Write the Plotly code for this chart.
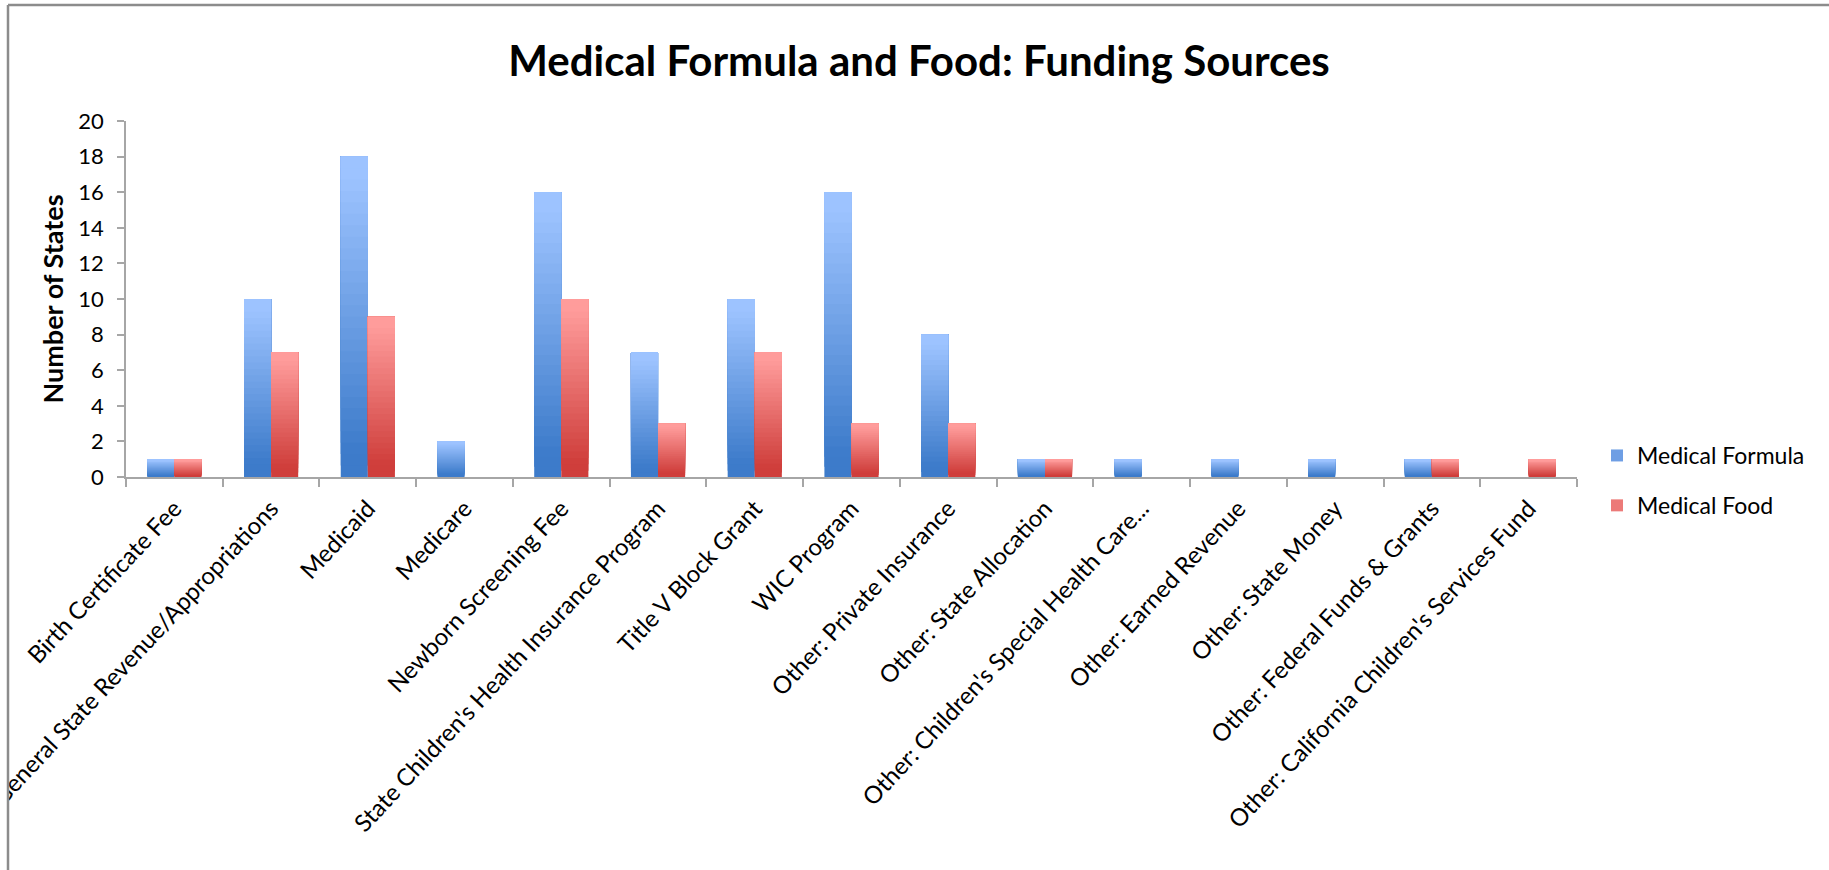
import plotly.graph_objects as go

# Funding sources and number of states using each
categories = [
    "Birth Certificate Fee",
    "General State Revenue/Appropriations",
    "Medicaid",
    "Medicare",
    "Newborn Screening Fee",
    "State Children's Health Insurance Program",
    "Title V Block Grant",
    "WIC Program",
    "Other: Private Insurance",
    "Other: State Allocation",
    "Other: Children's Special Health Care...",
    "Other: Earned Revenue",
    "Other: State Money",
    "Other: Federal Funds & Grants",
    "Other: California Children's Services Fund",
]
medical_formula = [1, 10, 18, 2, 16, 7, 10, 16, 8, 1, 1, 1, 1, 1, 0]
medical_food = [1, 7, 9, 0, 10, 3, 7, 3, 3, 1, 0, 0, 0, 1, 1]
y_ticks = [0, 2, 4, 6, 8, 10, 12, 14, 16, 18, 20]

W, H = 1829, 870
L, R, T, B = 126, 1577, 121, 477  # plot area in pixels
FONT = "Lato"

# (name, values, bottom colour, top colour, legend colour, bar offset)
series = [
    ("Medical Formula", medical_formula, (0x3D, 0x7B, 0xCA), (0x9D, 0xC3, 0xFF), "#6E9EE4", -0.28),
    ("Medical Food", medical_food, (0xCF, 0x3E, 0x3B), (0xFF, 0x9C, 0x9B), "#EC7A78", 0.0),
]
STEPS = 28
BAR_W = 0.28


def blend(c0, c1, t):
    # dark plateau at the foot of the bar, then a linear ramp to the top colour
    t = min(max((t - 0.08) / 0.86, 0.0), 1.0)
    return "rgb({},{},{})".format(*(round(a + (b - a) * t) for a, b in zip(c0, c1)))


fig = go.Figure()
for name, vals, dark, light, legend_col, off in series:
    for k in range(STEPS):
        frac0 = k / STEPS
        fig.add_trace(go.Bar(
            x=categories,
            y=[v * (1 - frac0) for v in vals],
            base=[v * frac0 for v in vals],
            offset=off,
            width=BAR_W,
            marker=dict(color=blend(dark, light, (k + 0.5) / STEPS), line=dict(width=0)),
            name=name,
            legendgroup=name,
            showlegend=False,
            hoverinfo="skip" if k else "x+y+name",
        ))
    # legend entry
    fig.add_trace(go.Bar(
        x=[categories[0]], y=[None], name=name, legendgroup=name,
        marker=dict(color=legend_col, line=dict(width=0)), showlegend=True,
    ))

pw, ph = R - L, B - T


def px_x(p):
    return (p - L) / pw


def px_y(p):
    return (B - p) / ph


fig.update_layout(
    width=W,
    height=H,
    barmode="overlay",
    paper_bgcolor="white",
    plot_bgcolor="white",
    margin=dict(l=L, r=W - R, t=T, b=H - B, autoexpand=False),
    font=dict(family=FONT, color="#000000"),
    title=dict(
        text="<b>Medical Formula and Food: Funding Sources</b>",
        font=dict(family=FONT, size=42, color="#000000"),
        xref="container", x=919 / W, xanchor="center",
        yref="container", y=1 - 61 / H, yanchor="middle",
    ),
    xaxis=dict(
        range=[-0.5, len(categories) - 0.5],
        tickangle=-47,
        tickfont=dict(family=FONT, size=24, color="#000000"),
        showline=True, linecolor="#A6A6A6", linewidth=2,
        ticks="outside", ticklen=8, tickcolor="#A6A6A6", tickwidth=1.5,
        ticklabelstandoff=6,
        tickson="boundaries",
        showgrid=False, zeroline=False,
        automargin=False,
    ),
    yaxis=dict(
        range=[0, 20],
        tickvals=y_ticks,
        tickfont=dict(family=FONT, size=22, color="#000000"),
        showline=True, linecolor="#A6A6A6", linewidth=1.5,
        ticks="outside", ticklen=7, tickcolor="#A6A6A6", tickwidth=1.5,
        ticklabelstandoff=9,
        showgrid=False, zeroline=False,
        title=dict(text="<b>Number of States</b>", font=dict(family=FONT, size=27, color="#000000"), standoff=7),
        automargin=False,
    ),
    legend=dict(
        x=px_x(1597), xanchor="left",
        y=px_y(434), yanchor="top",
        font=dict(family=FONT, size=23, color="#000000"),
        tracegroupgap=17,
        bgcolor="rgba(0,0,0,0)",
    ),
    shapes=[
        # white strip outside the frame so labels stop at its edge
        dict(type="rect", xref="paper", yref="paper", x0=px_x(-10), x1=px_x(8), y0=px_y(-10), y1=px_y(H + 20),
             fillcolor="white", line=dict(width=0), layer="above"),
        # outer chart frame (top and left edges)
        dict(type="line", xref="paper", yref="paper", x0=px_x(8), x1=px_x(W + 20), y0=px_y(5), y1=px_y(5),
             line=dict(color="#8C8C8C", width=2.5)),
        dict(type="line", xref="paper", yref="paper", x0=px_x(8), x1=px_x(8), y0=px_y(5), y1=px_y(H + 20),
             line=dict(color="#8C8C8C", width=2.5)),
    ],
)

fig.write_html("out.html")
